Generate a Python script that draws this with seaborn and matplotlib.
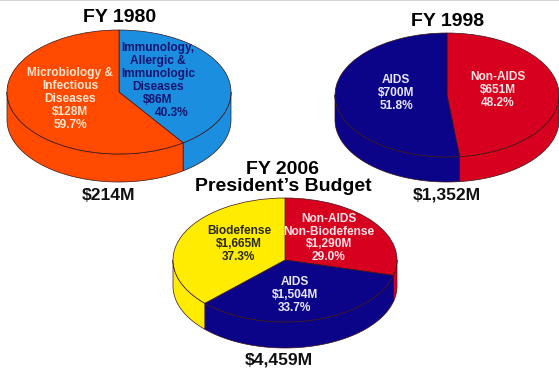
import numpy as np
import matplotlib
matplotlib.use("Agg")
import matplotlib.pyplot as plt
import seaborn as sns

sns.set_theme(style="white")
plt.rcParams['font.family'] = ['Liberation Sans', 'DejaVu Sans']

W, H = 559, 368

ORANGE, SKY, NAVY, RED, YELLOW = sns.color_palette(
    ["#FF4A00", "#1C8EE0", "#0C0488", "#D8001F", "#FFEC00"])

# Shares run clockwise from twelve o'clock
shares_1980 = [40.3, 59.7]
shares_1998 = [48.2, 51.8]
shares_2006 = [29.0, 33.7, 37.3]

amounts_1980 = ["$86M", "$128M"]
amounts_1998 = ["$651M", "$700M"]
amounts_2006 = ["$1,290M", "$1,504M", "$1,665M"]

totals = ["$214M", "$1,352M", "$4,459M"]
years = ["FY 1980", "FY 1998", "FY 2006\nPresident\u2019s Budget"]

fig = plt.figure(figsize=(W / 100, H / 100), dpi=100, facecolor="white")


def draw_disc(cx, cy, rx, ry, depth, shares, colors):
    """Draw a tilted disc: ellipse top from ax.pie, side wall below it."""
    ax = fig.add_axes([(cx - rx) / W, 1 - (cy + ry) / H, 2 * rx / W, 2 * ry / H])
    ax.patch.set_alpha(0)
    wedges, _ = ax.pie(shares, colors=colors, startangle=90, counterclock=False,
                       radius=1, normalize=True,
                       wedgeprops=dict(edgecolor="#3A1414", linewidth=0.5))
    for w in wedges:
        w.set_clip_on(False)
        w.set_zorder(3)
    ax.set_aspect("auto")
    ax.set_xlim(-1, 1)
    ax.set_ylim(-1, 1)
    ax.axis("off")

    d = depth / ry
    bounds = 90 - 3.6 * np.concatenate([[0], np.cumsum(shares)])
    for a0, a1, color in zip(bounds[:-1], bounds[1:], colors):
        hi, lo = min(a0, 0), max(a1, -180)
        if lo >= hi:
            continue
        t = np.radians(np.linspace(lo, hi, 80))
        xs = np.concatenate([np.cos(t), np.cos(t[::-1])])
        ys = np.concatenate([np.sin(t), np.sin(t[::-1]) - d])
        ax.fill(xs, ys, facecolor=color, edgecolor="#3A1414",
                linewidth=0.5, clip_on=False, zorder=2)


draw_disc(119, 92, 112, 62, 28, shares_1980, [SKY, ORANGE])
draw_disc(447, 95, 112, 62, 25, shares_1998, [RED, NAVY])
draw_disc(285, 260, 112, 62, 26, shares_2006, [RED, NAVY, YELLOW])

# Overlay in pixel units for all wording
top = fig.add_axes([0, 0, 1, 1])
top.set_xlim(0, W)
top.set_ylim(H, 0)
top.axis("off")
top.patch.set_alpha(0)
top.axhspan(0, 1, color="#D6D6D6", lw=0)


def say(x, y, s, color, size=8.6, weight="bold", ls=1.09):
    top.text(x, y, s, color=color, fontsize=size, fontweight=weight,
             ha="center", va="center", linespacing=ls)


for x, y, s in [(120, 17, years[0]), (448, 21, years[1]), (283, 178, years[2])]:
    say(x, y, s, "black", size=14, ls=1.05)
for x, y, s in [(109, 196, totals[0]), (447, 195, totals[1]), (279, 360, totals[2])]:
    say(x, y, s, "#111111", size=12.6)

PALE = "#FFE6D2"
INK = "#141470"
say(70, 99, f"Microbiology &\nInfectious\nDiseases\n{amounts_1980[1]}\n59.7%", PALE)
say(158, 74, f"Immunology,\nAllergic &\nImmunologic\nDiseases\n{amounts_1980[0]}", INK)
say(172, 113, "40.3%", INK)
say(396, 93, f"AIDS\n{amounts_1998[1]}\n51.8%", "#E8E8FF")
say(498, 90, f"Non-AIDS\n{amounts_1998[0]}\n48.2%", "#FFE6E6")
say(239, 244, f"Biodefense\n{amounts_2006[2]}\n37.3%", "#2A2A10")
say(329, 238, f"Non-AIDS\nNon-Biodefense\n{amounts_2006[0]}\n29.0%", "#FFE6E6")
say(295, 295, f"AIDS\n{amounts_2006[1]}\n33.7%", "#E8E8FF")

fig.savefig("out.png", dpi=100)
